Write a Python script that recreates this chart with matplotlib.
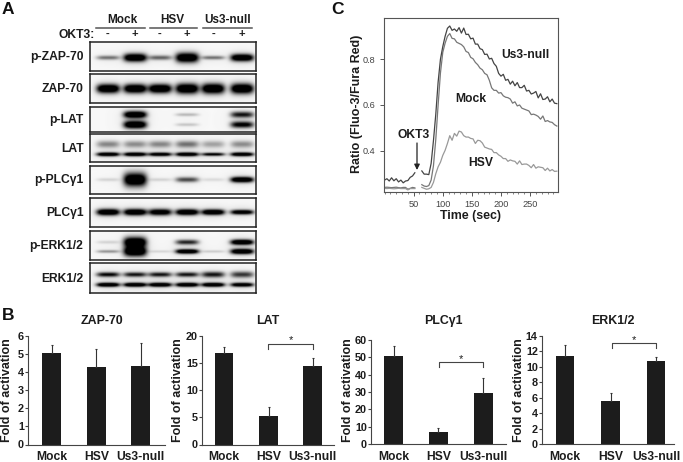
"""
Western blots, calcium flux traces and activation bar charts (panels A, B, C)
"""

import numpy as np
import matplotlib
matplotlib.use('Agg')
import matplotlib.pyplot as plt

plt.rcParams['font.family'] = ['Liberation Sans', 'DejaVu Sans']

W, H = 683, 462
INK = '#1c1c1c'

# Panel A - band darkness per lane (0 = nothing, 1 = saturated)
lanes = [108, 135, 160, 187, 213, 242]
groups = ['Mock', 'HSV', 'Us3-null']
okt3 = ['-', '+', '-', '+', '-', '+']
blot_names = ['p-ZAP-70', 'ZAP-70', 'p-LAT', 'LAT', 'p-PLCγ1', 'PLCγ1', 'p-ERK1/2', 'ERK1/2']

# each row: list of bands as (y fraction, band height px, darkness per lane)
blot_bands = [
    [(0.55, [2.0, 3.8, 2.2, 4.6, 1.8, 3.4], [0.38, 1.0, 0.42, 1.0, 0.38, 1.0])],
    [(0.50, [4.4, 4.4, 4.4, 5, 5, 5], [1.0, 1.0, 1.0, 1.0, 1.0, 1.0])],
    [(0.30, [2, 3.4, 2, 1.6, 2, 3], [0.0, 1.0, 0.0, 0.18, 0.0, 0.65]),
     (0.70, [2, 3.8, 2, 1.6, 2, 3.2], [0.0, 1.0, 0.0, 0.14, 0.0, 0.75])],
    [(0.36, [3.4, 3.4, 3.4, 3.4, 3.4, 3.4], [0.32, 0.30, 0.32, 0.38, 0.24, 0.30]),
     (0.72, [1.9, 1.9, 1.8, 1.9, 1.6, 1.9], [0.95, 0.95, 0.9, 0.95, 0.75, 0.95])],
    [(0.50, [1.6, 6.5, 1.6, 2.4, 1.6, 2.6], [0.10, 1.0, 0.10, 0.50, 0.08, 1.0])],
    [(0.50, [3.0, 3.0, 3.0, 2.8, 2.6, 2.2], [1.0, 1.0, 0.9, 1.0, 1.0, 0.9])],
    [(0.38, [1.6, 5, 1, 2.4, 1, 2.6], [0.10, 1.0, 0.0, 0.60, 0.0, 1.0]),
     (0.70, [1.5, 4.8, 1.3, 2.2, 1.3, 2.6], [0.28, 1.0, 0.09, 1.0, 0.12, 1.0])],
    [(0.38, [2.3, 2.3, 2.3, 2.3, 2.8, 3.0], [0.7, 0.65, 0.65, 0.65, 0.65, 0.55]),
     (0.72, [2.0, 2.0, 2.0, 2.0, 2.0, 2.0], [1.0, 1.0, 1.0, 1.0, 1.0, 0.9])],
]
blot_top = [42, 74, 107, 134, 166, 198, 231, 263]
blot_bottom = [71, 103, 132, 162, 194, 227, 260, 293]

# Panel C - ratio readings, one every 4 s
time_sec = list(range(0, 297, 4))
us3_ratio = [
    0.272, 0.278, 0.268, 0.282, 0.269, 0.278, 0.264, 0.272, 0.260, 0.268, 0.270, 0.284, 0.290, 0.304,
    np.nan, np.nan,
    0.312, 0.298, 0.298, 0.296, 0.345, 0.445, 0.560, 0.700, 0.800, 0.855, 0.900, 0.935, 0.945, 0.926,
    0.932, 0.922, 0.938, 0.914, 0.936, 0.908, 0.909, 0.889, 0.892, 0.866, 0.866, 0.846, 0.842, 0.821,
    0.822, 0.801, 0.804, 0.781, 0.769, 0.738, 0.726, 0.734, 0.708, 0.712, 0.691, 0.704, 0.684, 0.698,
    0.676, 0.676, 0.686, 0.661, 0.664, 0.648, 0.652, 0.659, 0.631, 0.649, 0.624, 0.626, 0.636, 0.614,
    0.626, 0.608, 0.606,
]
mock_ratio = [
    0.240, 0.241, 0.240, 0.239, 0.240, 0.241, 0.239, 0.238, 0.240, 0.240, 0.232, 0.236, 0.240, 0.238,
    np.nan, np.nan,
    0.252, 0.246, 0.244, 0.248, 0.272, 0.335, 0.450, 0.600, 0.740, 0.830, 0.870, 0.900, 0.912, 0.891,
    0.889, 0.874, 0.869, 0.864, 0.854, 0.834, 0.829, 0.808, 0.802, 0.786, 0.776, 0.761, 0.754, 0.738,
    0.732, 0.708, 0.675, 0.664, 0.664, 0.652, 0.654, 0.640, 0.634, 0.632, 0.626, 0.608, 0.614, 0.596,
    0.600, 0.586, 0.582, 0.578, 0.574, 0.558, 0.560, 0.556, 0.550, 0.538, 0.552, 0.528, 0.532, 0.526,
    0.524, 0.514, 0.508,
]
hsv_ratio = [
    0.236, 0.235, 0.236, 0.235, 0.234, 0.235, 0.236, 0.235, 0.235, 0.235, 0.229, 0.235, 0.235, 0.235,
    np.nan, np.nan,
    0.240, 0.236, 0.232, 0.234, 0.240, 0.262, 0.300, 0.330, 0.350, 0.380, 0.402, 0.432, 0.466, 0.446,
    0.476, 0.464, 0.486, 0.482, 0.466, 0.460, 0.460, 0.454, 0.452, 0.432, 0.446, 0.444, 0.434, 0.416,
    0.412, 0.408, 0.406, 0.392, 0.392, 0.382, 0.376, 0.366, 0.366, 0.354, 0.360, 0.356, 0.354, 0.342,
    0.356, 0.340, 0.342, 0.342, 0.336, 0.326, 0.340, 0.324, 0.330, 0.328, 0.326, 0.314, 0.324, 0.312,
    0.318, 0.310, 0.311,
]

# Panel B - fold of activation
categories = ['Mock', 'HSV', 'Us3-null']
zap_values = [5.05, 4.3, 4.35]
zap_errors = [0.47, 1.0, 1.25]
lat_values = [16.8, 5.2, 14.5]
lat_errors = [1.1, 1.7, 1.5]
plc_values = [50.5, 7.2, 29.2]
plc_errors = [6.2, 1.8, 8.6]
erk_values = [11.4, 5.5, 10.7]
erk_errors = [1.4, 1.1, 0.6]


def axes_px(fig, x0, y0, x1, y1):
    """Axes placed by pixel box, y counted from the top"""
    return fig.add_axes([x0 / W, 1 - y1 / H, (x1 - x0) / W, (y1 - y0) / H])


def draw_blot(ax, bands, height, x0=90, x1=256):
    """Render one blot strip from its band darkness values"""
    scale = 3
    xx, yy = np.meshgrid(np.arange(x0, x1, 1 / scale), np.arange(0, height, 1 / scale))
    dark = np.full(xx.shape, 0.03)
    for y_frac, heights, levels in bands:
        for lane, band_h, level in zip(lanes, heights, levels):
            half_w = 11.5
            band = np.exp(-((xx - lane) / half_w) ** 4 - ((yy - y_frac * height) / band_h) ** 2)
            # faint halo around the band
            halo = np.exp(-((xx - lane) / (half_w + 2)) ** 2 - ((yy - y_frac * height) / (band_h + 4)) ** 2)
            dark += level * (1.3 * band + 0.10 * halo)
    ax.imshow(1 - np.clip(dark, 0, 1), cmap='gray', vmin=0, vmax=1, aspect='auto',
              extent=(x0, x1, height, 0), interpolation='bilinear')
    ax.set_xticks([])
    ax.set_yticks([])
    for spine in ax.spines.values():
        spine.set_linewidth(1.1)
        spine.set_color('#222222')


def draw_bars(fig, box, title, values, errors, ymax, step, title_x, label_x, bar_centers, bracket=None):
    """One activation bar chart"""
    x0, y0, x1, y1 = box
    ax = axes_px(fig, x0, y0, x1, y1)
    # axis x runs in pixels so the bars sit where they do in the figure
    ax.bar(bar_centers, values, width=18.5, color=INK, yerr=[[0] * 3, errors],
           ecolor='#333333', error_kw={'elinewidth': 0.8, 'capsize': 1, 'capthick': 0.8})
    ax.set_xlim(x0, x1)
    ax.set_ylim(0, ymax)
    ax.set_yticks(np.arange(0, ymax + step, step))
    ax.set_xticks(bar_centers)
    ax.set_xticklabels(categories, fontsize=8.7, fontweight='bold', color=INK)
    ax.tick_params(axis='x', length=0, pad=5)
    ax.tick_params(axis='y', length=2, width=0.8, pad=1, color='#444444')
    for lab in ax.get_yticklabels():
        lab.set_fontsize(7.8)
        lab.set_fontweight('bold')
        lab.set_color(INK)
    ax.spines['top'].set_visible(False)
    ax.spines['right'].set_visible(False)
    ax.spines['left'].set_color('#444444')
    ax.spines['bottom'].set_color('#444444')
    ax.patch.set_alpha(0)
    fig.text(title_x / W, 1 - 321 / H, title, ha='center', va='center',
             fontsize=8.9, fontweight='bold', color=INK)
    fig.text(label_x / W, 1 - 390 / H, 'Fold of activation', rotation=90, ha='center', va='center',
             fontsize=9.0, fontweight='bold', color=INK)
    if bracket:
        left, right, top, drop = bracket
        ax.plot([left, left, right, right], [top - drop, top, top, top - drop], color='#444444', lw=0.8)
        ax.text((left + right) / 2, top - drop * 0.35, '*', ha='center', va='bottom', fontsize=8, color=INK)


def main():
    fig = plt.figure(figsize=(W / 100, H / 100), dpi=100)

    # full figure overlay in pixel coordinates, for text and rules
    px = fig.add_axes([0, 0, 1, 1])
    px.set_xlim(0, W)
    px.set_ylim(H, 0)
    px.axis('off')

    for letter, x, y in [('A', 2, 9), ('B', 2, 315), ('C', 331, 9)]:
        px.text(x, y, letter, fontsize=12.5, fontweight='bold', color='#111111', ha='left', va='center')

    # Panel A header
    for name, cx, a, b in zip(groups, [122, 172.5, 228], [96, 150, 203], [145, 197, 252]):
        px.text(cx, 20, name, fontsize=8.5, fontweight='bold', color=INK, ha='center', va='center')
        px.plot([a, b], [27.7, 27.7], color='#555555', lw=1.1)
    px.text(95, 34.5, 'OKT3:', fontsize=8.7, fontweight='bold', color=INK, ha='right', va='center')
    for lane, sign in zip(lanes, okt3):
        px.text(lane, 34, sign, fontsize=8, fontweight='bold', color=INK, ha='center', va='center')

    # Panel A blots
    for name, bands, top, bottom in zip(blot_names, blot_bands, blot_top, blot_bottom):
        ax = axes_px(fig, 90, top, 256, bottom)
        draw_blot(ax, bands, bottom - top)
        px.text(83.5, (top + bottom) / 2 + 0.5, name, fontsize=8.7, fontweight='bold', color=INK,
                ha='right', va='center')

    # Panel C traces
    ax = axes_px(fig, 384, 18, 558, 192)
    ax.plot(time_sec, mock_ratio, color='#777777', lw=0.9)
    ax.plot(time_sec, hsv_ratio, color='#999999', lw=0.9)
    ax.plot(time_sec, us3_ratio, color='#444444', lw=0.9)
    ax.set_xlim(-1, 298)
    ax.set_ylim(0.22, 0.98)
    ax.set_xticks([50, 100, 150, 200, 250])
    ax.set_xticks(np.arange(0, 298, 10), minor=True)
    ax.set_yticks([0.4, 0.6, 0.8])
    ax.tick_params(axis='both', which='major', labelsize=6.6, labelcolor='#444444', length=3, width=0.7,
                   color='#555555', pad=3)
    ax.tick_params(axis='x', which='minor', length=1.5, width=0.5, color='#555555')
    for spine in ax.spines.values():
        spine.set_color('#555555')
        spine.set_linewidth(0.8)
    ax.patch.set_alpha(0)

    px.text(525.7, 55, 'Us3-null', fontsize=8.7, fontweight='bold', color=INK, ha='center', va='center')
    px.text(471, 99, 'Mock', fontsize=8.7, fontweight='bold', color=INK, ha='center', va='center')
    px.text(481, 163, 'HSV', fontsize=8.7, fontweight='bold', color=INK, ha='center', va='center')
    px.text(414, 135, 'OKT3', fontsize=8.7, fontweight='bold', color=INK, ha='center', va='center')
    px.annotate('', xy=(417, 170), xytext=(417, 143),
                arrowprops=dict(arrowstyle='-|>', color='#222222', lw=0.9, mutation_scale=8, shrinkA=0, shrinkB=0))
    px.text(357, 104, 'Ratio (Fluo-3/Fura Red)', rotation=90, fontsize=9.0, fontweight='bold', color=INK,
            ha='center', va='center')
    px.text(470, 216, 'Time (sec)', fontsize=8.9, fontweight='bold', color=INK, ha='center', va='center')

    # Panel B bars
    draw_bars(fig, (28, 336, 165, 444.5), 'ZAP-70', zap_values, zap_errors, 6, 1, 102, 7.5,
              [51.5, 96.3, 140.5])
    draw_bars(fig, (202, 336, 334, 444.5), 'LAT', lat_values, lat_errors, 20, 5, 268, 178,
              [224, 268.5, 312.5], bracket=(268.3, 312.7, 18.6, 1.0))
    draw_bars(fig, (371, 340, 506, 444), 'PLCγ1', plc_values, plc_errors, 60, 10, 443, 348,
              [393.7, 438.3, 483.3], bracket=(439.3, 483.3, 47.1, 2.9))
    draw_bars(fig, (542, 335.7, 674, 444), 'ERK1/2', erk_values, erk_errors, 14, 2, 613, 519.5,
              [565, 610.7, 656], bracket=(612.3, 656, 13.0, 0.55))

    fig.savefig('out.png', dpi=100)
    plt.close(fig)


if __name__ == "__main__":
    main()
